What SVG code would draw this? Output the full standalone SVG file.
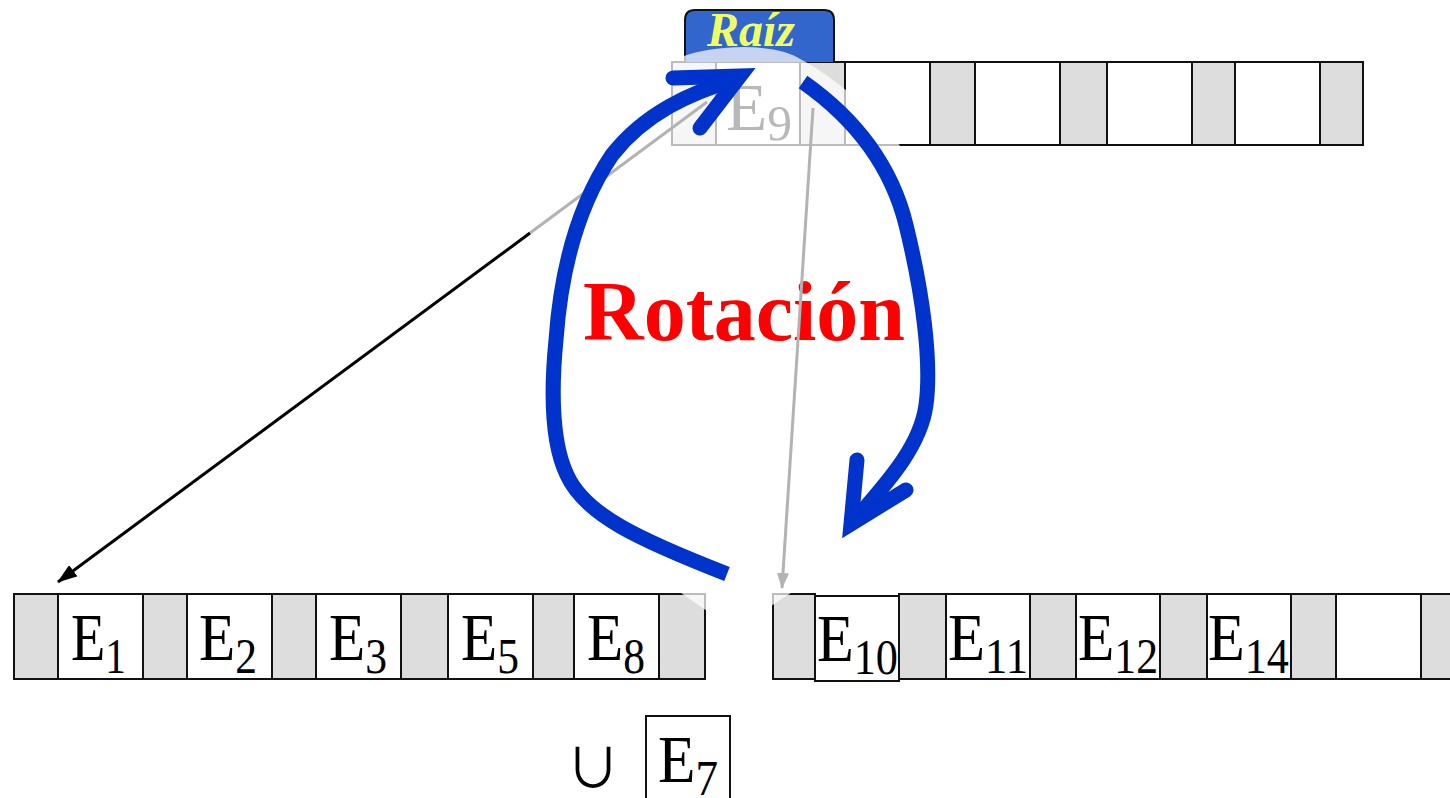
<svg xmlns="http://www.w3.org/2000/svg" width="1450" height="798" viewBox="0 0 1450 798">
<style>
.g{fill:#dddddd;stroke:#111;stroke-width:2}
.w{fill:#ffffff;stroke:#111;stroke-width:2}
.lbl{font-family:"Liberation Serif","Times New Roman",serif;font-size:68px;fill:#000}
.sub{font-size:50px}
.fade{fill:#ffffff;opacity:0.72}
.gray{stroke:#b3b3b3;stroke-width:3;fill:none}
.blue{stroke:#0033cc;stroke-width:15;fill:none}
</style>
<defs>
<marker id="ahBlack" markerWidth="20" markerHeight="14" refX="19" refY="7" orient="auto" markerUnits="userSpaceOnUse" viewBox="0 0 20 14">
<path d="M0,0 L20,7 L0,14 Z" fill="#000"/>
</marker>
<marker id="ahGray" markerWidth="16" markerHeight="12" refX="15" refY="6" orient="auto" markerUnits="userSpaceOnUse" viewBox="0 0 16 12">
<path d="M0,0 L16,6 L0,12 Z" fill="#b3b3b3"/>
</marker>
</defs>

<g id="root-node">
<rect class="g" x="672" y="62" width="44" height="83"/>
<rect class="w" x="716" y="62" width="84" height="83"/>
<rect class="g" x="800" y="62" width="45" height="83"/>
<rect class="w" x="845" y="62" width="85" height="83"/>
<rect class="g" x="930" y="62" width="45" height="83"/>
<rect class="w" x="975" y="62" width="85" height="83"/>
<rect class="g" x="1060" y="62" width="47" height="83"/>
<rect class="w" x="1107" y="62" width="85" height="83"/>
<rect class="g" x="1192" y="62" width="43" height="83"/>
<rect class="w" x="1235" y="62" width="85" height="83"/>
<rect class="g" x="1320" y="62" width="43" height="83"/>
<text class="lbl" x="726" y="130" font-size="64" textLength="66" lengthAdjust="spacingAndGlyphs">E<tspan class="sub" font-size="46" dy="10">9</tspan></text>
<path d="M685,62 L685,20 Q685,10 695,10 L824,10 Q834,10 834,20 L834,62" fill="#3366cc" stroke="#111" stroke-width="2"/>
<text x="707" y="46" font-family="Liberation Serif, Times New Roman, serif" font-style="italic" font-weight="bold" font-size="48" fill="#eeff66">Raíz</text>
<path class="fade" d="M668,150 L668,62 L684,56 C715,45 775,42 802,60 C835,78 880,115 903,150 Z"/>
</g>

<g id="left-node">
<rect class="g" x="14" y="594" width="44" height="85"/>
<rect class="w" x="58" y="594" width="85" height="85"/>
<rect class="g" x="143" y="594" width="44" height="85"/>
<rect class="w" x="187" y="594" width="85" height="85"/>
<rect class="g" x="272" y="594" width="44" height="85"/>
<rect class="w" x="316" y="594" width="85" height="85"/>
<rect class="g" x="401" y="594" width="47" height="85"/>
<rect class="w" x="448" y="594" width="85" height="85"/>
<rect class="g" x="533" y="594" width="41" height="85"/>
<rect class="w" x="574" y="594" width="85" height="85"/>
<rect class="g" x="659" y="594" width="46" height="85"/>
<text class="lbl" x="71" y="660" textLength="55" lengthAdjust="spacingAndGlyphs">E<tspan class="sub" dy="13">1</tspan></text>
<text class="lbl" x="199" y="660" textLength="58" lengthAdjust="spacingAndGlyphs">E<tspan class="sub" dy="13">2</tspan></text>
<text class="lbl" x="329" y="660" textLength="58" lengthAdjust="spacingAndGlyphs">E<tspan class="sub" dy="13">3</tspan></text>
<text class="lbl" x="461" y="660" textLength="58" lengthAdjust="spacingAndGlyphs">E<tspan class="sub" dy="13">5</tspan></text>
<text class="lbl" x="587" y="660" textLength="58" lengthAdjust="spacingAndGlyphs">E<tspan class="sub" dy="13">8</tspan></text>
<path class="fade" d="M681,593 L707,593 L707,611 Z"/>
</g>

<g id="right-node">
<rect class="g" x="773" y="594" width="42" height="85"/>
<rect class="w" x="815" y="596" width="84" height="85"/>
<rect class="g" x="899" y="594" width="47" height="85"/>
<rect class="w" x="946" y="594" width="84" height="85"/>
<rect class="g" x="1030" y="594" width="46" height="85"/>
<rect class="w" x="1076" y="594" width="84" height="85"/>
<rect class="g" x="1160" y="594" width="47" height="85"/>
<rect class="w" x="1207" y="594" width="84" height="85"/>
<rect class="g" x="1291" y="594" width="45" height="85"/>
<rect class="w" x="1336" y="594" width="85" height="85"/>
<rect class="g" x="1421" y="594" width="45" height="85"/>
<text class="lbl" x="817" y="661" textLength="81" lengthAdjust="spacingAndGlyphs">E<tspan class="sub" dy="13">10</tspan></text>
<text class="lbl" x="948" y="660" textLength="80" lengthAdjust="spacingAndGlyphs">E<tspan class="sub" dy="13">11</tspan></text>
<text class="lbl" x="1078" y="660" textLength="80" lengthAdjust="spacingAndGlyphs">E<tspan class="sub" dy="13">12</tspan></text>
<text class="lbl" x="1208" y="660" textLength="81" lengthAdjust="spacingAndGlyphs">E<tspan class="sub" dy="13">14</tspan></text>
<path class="fade" d="M771,593 L791,593 L771,606 Z"/>
</g>

<g id="insert-E7">
<text x="566" y="788" font-family="Noto Sans CJK JP, DejaVu Serif, sans-serif" font-size="54" fill="#000">∪</text>
<rect class="w" x="646" y="716" width="84" height="90"/>
<text class="lbl" x="658" y="782" textLength="60" lengthAdjust="spacingAndGlyphs">E<tspan class="sub" dy="13">7</tspan></text>
</g>

<g id="label-rotacion">
<text x="583" y="340" font-family="Liberation Serif, Times New Roman, serif" font-weight="bold" font-size="84" fill="#ff0000">Rotación</text>
</g>

<g id="connectors">
<line class="gray" x1="707" y1="102" x2="530" y2="233"/>
<line x1="530" y1="233" x2="58" y2="582" stroke="#000" stroke-width="3" marker-end="url(#ahBlack)"/>
<line class="gray" x1="813" y1="108" x2="782" y2="588" marker-end="url(#ahGray)"/>
<path class="blue" d="M727,574 C640,540 585,515 567,475 C550,440 552,380 556,340 C562,255 585,195 612,155 C645,113 690,93 736,79"/>
<path class="blue" d="M673,78 L740,76 L700,128" stroke-linecap="round" stroke-linejoin="miter"/>
<path class="blue" d="M803,82 C850,115 890,160 906,225 C922,290 932,360 926,405 C920,450 880,490 853,522"/>
<path class="blue" d="M857,460 L851,524 L906,490" stroke-linecap="round" stroke-linejoin="miter"/>
</g>
</svg>
